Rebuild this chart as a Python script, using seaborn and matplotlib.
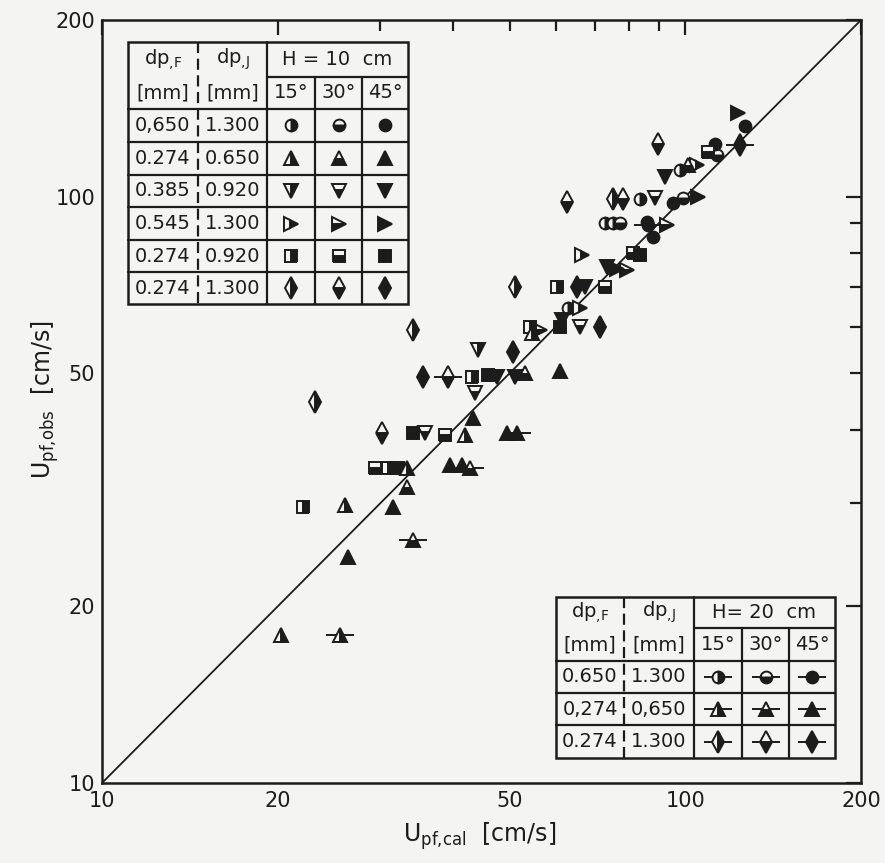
import pandas as pd
import matplotlib
matplotlib.use('Agg')
import matplotlib.pyplot as plt
from matplotlib.lines import Line2D
from matplotlib.patches import Rectangle
from matplotlib.ticker import FixedLocator, FixedFormatter
import seaborn as sns

sns.set_theme(style='white')
plt.rcParams['font.family'] = ['DejaVu Sans']
plt.rcParams['mathtext.fontset'] = 'dejavusans'

BG = '#f4f4f2'
INK = '#1c1c1c'
W, H = 885, 863

# ---- 数据: (U_pf,cal, U_pf,obs) [cm/s] ----
# H = 10 cm
circle_15 = [(97.9, 111), (83.6, 99), (72.8, 90), (75.1, 90), (62.9, 64.5)]
circle_30 = [(113.3, 117.7), (99, 99.5), (77.3, 90)]
circle_45 = [(126.5, 132), (112.4, 123), (95.2, 97.5), (86, 90.5), (88, 85.4)]
tri_up_15 = [(54.6, 58.5), (41.9, 39.2), (33.3, 34.5), (26.1, 29.8), (20.3, 17.9)]
tri_up_30 = [(101, 113), (53.1, 50), (33.3, 32)]
tri_up_45 = [(61, 50.4), (43.2, 41.9), (49.4, 39.5), (39.5, 34.8), (41.4, 34.8),
             (31.5, 29.6), (26.4, 24.3)]
tri_dn_15 = [(44.1, 54.7)]
tri_dn_30 = [(88.7, 99.4), (66, 60), (43.6, 46.2), (35.8, 39.5)]
tri_dn_45 = [(92.3, 108), (67.3, 70), (61.4, 61.6), (73.4, 75.8), (47.6, 49.2), (51, 49.2)]
tri_rt_15 = [(104.7, 113), (66.5, 79.6), (66, 64.5)]
tri_rt_30 = [(93, 89.6), (79.4, 74.9), (56.3, 59.2)]
tri_rt_45 = [(123.1, 139), (105, 99.7), (76.3, 75.3)]
square_15 = [(60.2, 70), (54.1, 60), (43.1, 49.2), (30.9, 34.5), (22.1, 29.6)]
square_30 = [(109.3, 119), (81.3, 80), (72.8, 70), (38.7, 39.2), (29.4, 34.5)]
square_45 = [(61, 60), (34.1, 39.5), (32.2, 34.5), (45.9, 49.6), (83.6, 79.5)]
diamond_15 = [(75.1, 99), (51, 70), (34.1, 59.2), (23.2, 44.6)]
diamond_30 = [(89.8, 123), (62.7, 98), (78.2, 99), (30.2, 39.5)]
diamond_45 = [(65.2, 70.2), (71.4, 60), (50.6, 54.3), (35.5, 49.2)]
# H = 20 cm
h20_circle_45 = [(86.3, 89.6)]
h20_tri_15 = [(25.6, 17.9)]
h20_tri_30 = [(42.7, 34.5), (34.1, 26)]
h20_tri_45 = [(51.4, 39.5)]
h20_diamond_30 = [(39.2, 49.2)]
h20_diamond_45 = [(124, 122.4)]

groups = [
    ('circle', 15, 10, circle_15), ('circle', 30, 10, circle_30), ('circle', 45, 10, circle_45),
    ('up', 15, 10, tri_up_15), ('up', 30, 10, tri_up_30), ('up', 45, 10, tri_up_45),
    ('down', 15, 10, tri_dn_15), ('down', 30, 10, tri_dn_30), ('down', 45, 10, tri_dn_45),
    ('right', 15, 10, tri_rt_15), ('right', 30, 10, tri_rt_30), ('right', 45, 10, tri_rt_45),
    ('square', 15, 10, square_15), ('square', 30, 10, square_30), ('square', 45, 10, square_45),
    ('diamond', 15, 10, diamond_15), ('diamond', 30, 10, diamond_30), ('diamond', 45, 10, diamond_45),
    ('circle', 45, 20, h20_circle_45),
    ('up', 15, 20, h20_tri_15), ('up', 30, 20, h20_tri_30), ('up', 45, 20, h20_tri_45),
    ('diamond', 30, 20, h20_diamond_30), ('diamond', 45, 20, h20_diamond_45),
]
rows = []
for shape, angle, h, pts in groups:
    for x, y in pts:
        rows.append({'x': x, 'y': y, 'shape': shape, 'angle': angle, 'H': h})
df = pd.DataFrame(rows)

# 图例表格内容
dpF_10 = ['0,650', '0.274', '0.385', '0.545', '0.274', '0.274']
dpJ_10 = ['1.300', '0.650', '0.920', '1.300', '0.920', '1.300']
shapes_10 = ['circle', 'up', 'down', 'right', 'square', 'diamond']
dpF_20 = ['0.650', '0,274', '0.274']
dpJ_20 = ['1.300', '0,650', '1.300']
shapes_20 = ['circle', 'up', 'diamond']
angles = [15, 30, 45]

MK = {'circle': 'o', 'up': '^', 'down': 'v', 'right': '>', 'square': 's', 'diamond': 'd'}
MS = {'circle': 8.5, 'up': 9.5, 'down': 9.5, 'right': 9.5, 'square': 8, 'diamond': 11}
FS = {15: 'right', 30: 'bottom', 45: 'full'}

fig = plt.figure(figsize=(W / 100, H / 100), dpi=100, facecolor=BG)
ax = fig.add_axes([102 / W, 1 - 783 / H, 759 / W, 763 / H], facecolor=BG)
ax.set_xscale('log')
ax.set_yscale('log')

sns.lineplot(x=[10, 200], y=[10, 200], ax=ax, color=INK, linewidth=1.3,
             estimator=None, sort=False, legend=False)

for (shape, angle, h), sub in df.groupby(['shape', 'angle', 'H']):
    if h == 20:
        # H=20 cm: 带横线的符号
        sns.lineplot(data=sub, x='x', y='y', ax=ax, estimator=None, sort=False,
                     errorbar=None, legend=False, linestyle='none', color=INK,
                     marker='_', markersize=20, markeredgecolor=INK,
                     markeredgewidth=1.4, zorder=3)
    sns.lineplot(data=sub, x='x', y='y', ax=ax, estimator=None, sort=False,
                 errorbar=None, legend=False, linestyle='none', color=INK,
                 marker=MK[shape], markersize=MS[shape], fillstyle=FS[angle],
                 markeredgecolor=INK, markerfacecoloralt=BG, markeredgewidth=1.4,
                 zorder=3)

ax.set_xlim(10, 200)
ax.set_ylim(10, 200)
ax.set_xlabel('')
ax.set_ylabel('')
for axis in (ax.xaxis, ax.yaxis):
    axis.set_major_locator(FixedLocator([10, 20, 100, 200]))
    axis.set_major_formatter(FixedFormatter(['10', '20', '100', '200']))
    axis.set_minor_locator(FixedLocator([30, 40, 50, 60, 70, 80, 90]))
    axis.set_minor_formatter(FixedFormatter(['', '', '50', '', '', '', '']))
ax.tick_params(which='both', direction='in', top=True, right=True, width=1.6,
               color=INK, labelcolor=INK, labelsize=15)
ax.tick_params(which='major', length=11)
ax.tick_params(which='minor', length=8)
ax.tick_params(axis='x', which='both', pad=6)
ax.tick_params(axis='y', which='both', pad=5)
for sp in ax.spines.values():
    sp.set_linewidth(1.8)
    sp.set_color(INK)

fig.text(480 / W, 1 - 836 / H, r'$\mathrm{U}_{\mathrm{pf{,}cal}}$  [cm/s]',
         ha='center', va='center', fontsize=17, color=INK)
fig.text(45 / W, 1 - 400 / H, r'$\mathrm{U}_{\mathrm{pf{,}obs}}$  [cm/s]',
         ha='center', va='center', rotation=90, fontsize=17, color=INK)


def fx(x):
    return x / W


def fy(y):
    return 1 - y / H


def line(x0, x1, y0, y1, ls='-'):
    fig.add_artist(Line2D([fx(x0), fx(x1)], [fy(y0), fy(y1)], transform=fig.transFigure,
                          color=INK, lw=1.6, ls=ls, zorder=5))


def draw_table(xs, ys, h_label, dpF, dpJ, shapes, bar):
    left, xd, x0, xa, xb, right = xs
    top, ysplit, yh = ys[:3]
    rb = ys[3:]
    bottom = rb[-1]
    fig.add_artist(Rectangle((fx(left), fy(bottom)), (right - left) / W, (bottom - top) / H,
                             transform=fig.transFigure, facecolor=BG, edgecolor=INK,
                             lw=1.8, zorder=4))
    line(xd, xd, top, bottom, ls=(0, (5, 2.5)))
    line(x0, x0, top, bottom)
    line(xa, xa, ysplit, bottom)
    line(xb, xb, ysplit, bottom)
    line(x0, right, ysplit, ysplit)
    line(left, right, yh, yh)
    for yb in rb[:-1]:
        line(left, right, yb, yb)
    kw = dict(ha='center', va='center', fontsize=14, color=INK, zorder=6)
    c1, c2 = (left + xd) / 2, (xd + x0) / 2
    r1, r2 = (top + ysplit) / 2, (ysplit + yh) / 2
    fig.text(fx(c1), fy(r1), r'dp$_{{,}\mathrm{F}}$', **kw)
    fig.text(fx(c2), fy(r1), r'dp$_{{,}\mathrm{J}}$', **kw)
    fig.text(fx(c1), fy(r2), '[mm]', **kw)
    fig.text(fx(c2), fy(r2), '[mm]', **kw)
    fig.text(fx((x0 + right) / 2), fy(r1), h_label, **kw)
    cols = [(x0 + xa) / 2, (xa + xb) / 2, (xb + right) / 2]
    for c, a in zip(cols, angles):
        fig.text(fx(c), fy(r2), f'{a}°', **kw)
    prev = yh
    for i, yb in enumerate(rb):
        yc = (prev + yb) / 2
        prev = yb
        fig.text(fx(c1), fy(yc), dpF[i], **kw)
        fig.text(fx(c2), fy(yc), dpJ[i], **kw)
        for c, a in zip(cols, angles):
            if bar:
                fig.add_artist(Line2D([fx(c)], [fy(yc)], transform=fig.transFigure,
                                      marker='_', markersize=20, mew=1.4, color=INK, zorder=6))
            fig.add_artist(Line2D([fx(c)], [fy(yc)], transform=fig.transFigure,
                                  marker=MK[shapes[i]], markersize=MS[shapes[i]],
                                  fillstyle=FS[a], color=INK, markeredgecolor=INK,
                                  markerfacecoloralt=BG, mew=1.4, zorder=7))


draw_table([128, 198, 267, 315, 362, 408],
           [42, 77, 109, 142, 175, 207, 240, 272, 304],
           'H = 10  cm', dpF_10, dpJ_10, shapes_10, False)
draw_table([556, 624, 694, 742, 789, 835],
           [597, 628, 661, 693, 725, 758],
           'H= 20  cm', dpF_20, dpJ_20, shapes_20, True)

fig.savefig('out.png', dpi=100, facecolor=BG)
